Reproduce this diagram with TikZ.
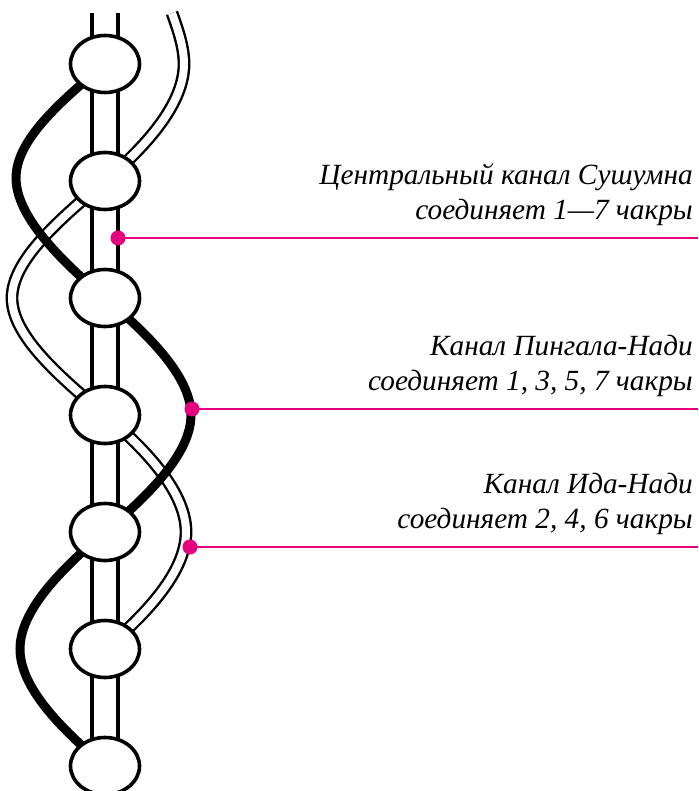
\documentclass[tikz,border=0pt]{standalone}
\usepackage{fontspec}
\setmainfont{Liberation Serif}
\usepackage{xcolor}
\definecolor{mpink}{HTML}{E5007D}
\usetikzlibrary{shapes.geometric,backgrounds}

\begin{document}
\begin{tikzpicture}[x=1pt, y=-1pt,
    chakra/.style={ellipse, draw, line width=3.6pt, fill=white,
        minimum width=69pt, minimum height=57pt, inner sep=0pt},
    channel/.style={line width=3.3pt},
    pingala/.style={line width=9pt},
    ida/.style={line width=2.4pt, double=white, double distance=8pt},
    marker/.style={mpink, line width=2pt},
    note/.style={font=\itshape\fontsize{29.3}{35}\selectfont, align=right,
        anchor=base east, inner sep=0pt}]

    \useasboundingbox (0, 0) rectangle (698, 791);

    % chakras 1..7, top to bottom
    \foreach \i in {1,...,7}
        \node[chakra] (c\i) at (105, {64 + 117*(\i - 1)}) {};

    \coordinate (topl) at (92, 13);
    \coordinate (topr) at (118, 13);
    \coordinate (idatop) at (172, 13);
    \coordinate (ip1) at (184, 64);
    \coordinate (ip2) at (12, 298);
    \coordinate (ip3) at (186, 532);
    \coordinate (pp1) at (16, 178);
    \coordinate (pp2) at (191, 415);
    \coordinate (pp3) at (20, 649);

    \begin{scope}[on background layer]
        \draw[channel] (topl) -- (topl |- c7.center);
        \draw[channel] (topr) -- (topr |- c7.center);

        \draw[ida] (idatop) .. controls +(6, 17) and +(0, -17) .. (ip1)
            .. controls +(0, 38) and +(45, -38) .. (c2.center)
            .. controls +(-45, 38) and +(0, -38) .. (ip2)
            .. controls +(0, 38) and +(-45, -38) .. (c4.center)
            .. controls +(45, 38) and +(0, -38) .. (ip3)
            .. controls +(0, 38) and +(45, -38) .. (c6.center);

        \draw[pingala] (c1.center) .. controls +(-45, 38) and +(0, -38) .. (pp1)
            .. controls +(0, 38) and +(-45, -38) .. (c3.center)
            .. controls +(45, 38) and +(0, -38) .. (pp2)
            .. controls +(0, 38) and +(45, -38) .. (c5.center)
            .. controls +(-45, 38) and +(0, -38) .. (pp3)
            .. controls +(0, 38) and +(-45, -38) .. (c7.center);
    \end{scope}

    % markers
    \coordinate (sdot) at (118, 238);
    \coordinate (pdot) at (192, 409);
    \coordinate (idot) at (190, 547);
    \coordinate (send) at (698, 238);
    \coordinate (pend) at (698, 409);
    \coordinate (iend) at (698, 547);

    \draw[marker] (sdot) -- (send);
    \draw[marker] (pdot) -- (pend);
    \draw[marker] (idot) -- (iend);
    \fill[mpink] (sdot) circle[radius=7.5pt];
    \fill[mpink] (pdot) circle[radius=7.5pt];
    \fill[mpink] (idot) circle[radius=7.5pt];

    \node[note] (sushumna) at (693, 220) {Центральный канал Сушумна\\соединяет 1—7 чакры};
    \node[note] (pingalatext) at (693, 390) {Канал Пингала-Нади\\соединяет 1, 3, 5, 7 чакры};
    \node[note] (idatext) at (693, 528) {Канал Ида-Нади\\соединяет 2, 4, 6 чакры};

\end{tikzpicture}
\end{document}
